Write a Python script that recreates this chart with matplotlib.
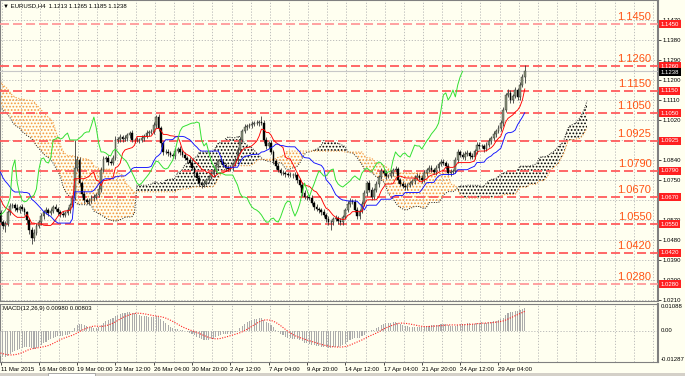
import numpy as np
import pandas as pd
import matplotlib
matplotlib.use("Agg")
import matplotlib.pyplot as plt
from matplotlib.patches import Rectangle

plt.rcParams['font.family'] = ['Liberation Sans', 'DejaVu Sans']
plt.rcParams['hatch.linewidth'] = 0.8

# ---------------- data ----------------
# H4 closes before the visible window (needed for Ichimoku / MACD warm-up)
hist_close = [1.1345, 1.1352, 1.1360, 1.1348, 1.1355, 1.1368, 1.1375, 1.1362, 1.1370, 1.1380,
              1.1372, 1.1358, 1.1350, 1.1362, 1.1371, 1.1365, 1.1352, 1.1347, 1.1356, 1.1362,
              1.1355, 1.1348, 1.1335,
              1.1290, 1.1248, 1.1215, 1.1202, 1.1195, 1.1188,
              1.1180, 1.1192, 1.1185, 1.1170, 1.1176, 1.1165, 1.1158, 1.1162, 1.1150, 1.1143,
              1.1150, 1.1138, 1.1130,
              1.1122, 1.1115, 1.1105, 1.1098, 1.1110, 1.1118, 1.1102, 1.1085, 1.1080, 1.1068, 1.1000,
              1.0975, 1.0958, 1.0935, 1.0905, 1.0878, 1.0862, 1.0848,
              1.0855, 1.0862, 1.0850, 1.0842, 1.0858, 1.0848, 1.0832,
              1.0812, 1.0790, 1.0765, 1.0740,
              1.0722, 1.0710, 1.0695, 1.0672, 1.0650, 1.0628, 1.0600]
hist_wick = [14, 10, 12, 9, 13, 11, 15, 10, 12, 16, 11, 9, 13, 12, 10, 14, 11, 12, 9, 13,
             12, 10, 14, 18, 15, 12, 11, 10, 13,
             12, 11, 10, 13, 9, 12, 11, 10, 12, 13, 9, 11, 12,
             10, 12, 11, 13, 9, 14, 12, 11, 10, 12, 13,
             20, 16, 14, 13, 15, 12, 11, 12, 10, 13, 11, 12, 10, 14,
             13, 12, 11, 12, 11, 13, 10, 12, 11, 12, 13]

# visible H4 closes, 11 Mar 2015 16:00 -> 1 May 2015
close = [1.0559, 1.0541, 1.0550, 1.0604, 1.0632, 1.0636, 1.0623, 1.0613, 1.0627, 1.0618,
         1.0604, 1.0568, 1.0523, 1.0487, 1.0510, 1.0541, 1.0559, 1.0586, 1.0604, 1.0613,
         1.0600, 1.0609, 1.0627, 1.0618, 1.0604, 1.0595, 1.0591, 1.0600, 1.0613, 1.0636,
         1.0668, 1.0803, 1.0839, 1.0735, 1.0686, 1.0658, 1.0650, 1.0654, 1.0668, 1.0672,
         1.0681, 1.0708, 1.0794, 1.0843, 1.0848, 1.0830, 1.0825, 1.0848, 1.0929, 1.0933,
         1.0942, 1.0933, 1.0938, 1.0951, 1.0960, 1.0929, 1.0929, 1.0929, 1.0929, 1.0938,
         1.0947, 1.0960, 1.0965, 1.0965, 1.0996, 1.1032, 1.0983, 1.0915, 1.0875, 1.0875,
         1.0870, 1.0861, 1.0857, 1.0879, 1.0888, 1.0875, 1.0861, 1.0848, 1.0839, 1.0825,
         1.0803, 1.0780, 1.0758, 1.0735, 1.0726, 1.0735, 1.0749, 1.0762, 1.0776, 1.0794,
         1.0816, 1.0834, 1.0830, 1.0816, 1.0803, 1.0798, 1.0803, 1.0821, 1.0839, 1.0884,
         1.0929, 1.0969, 1.0987, 1.0992, 1.0996, 1.1001, 1.1005, 1.1005, 1.1010, 1.1005,
         1.0929, 1.0902, 1.0915, 1.0875, 1.0834, 1.0812, 1.0794, 1.0780, 1.0780, 1.0776,
         1.0771, 1.0771, 1.0771, 1.0771, 1.0749, 1.0726, 1.0690, 1.0672, 1.0672, 1.0668,
         1.0645, 1.0627, 1.0618, 1.0613, 1.0604, 1.0591, 1.0573, 1.0559, 1.0559, 1.0573,
         1.0577, 1.0564, 1.0559, 1.0582, 1.0613, 1.0641, 1.0654, 1.0650, 1.0613, 1.0586,
         1.0609, 1.0641, 1.0690, 1.0735, 1.0704, 1.0672, 1.0704, 1.0731, 1.0762, 1.0789,
         1.0780, 1.0767, 1.0767, 1.0780, 1.0794, 1.0798, 1.0749, 1.0731, 1.0722, 1.0717,
         1.0726, 1.0735, 1.0744, 1.0758, 1.0767, 1.0758, 1.0749, 1.0780, 1.0794, 1.0803,
         1.0794, 1.0785, 1.0803, 1.0821, 1.0830, 1.0825, 1.0812, 1.0780, 1.0785, 1.0789,
         1.0839, 1.0875, 1.0861, 1.0852, 1.0866, 1.0870, 1.0857, 1.0852, 1.0879, 1.0906,
         1.0902, 1.0902, 1.0888, 1.0906, 1.0924, 1.0938, 1.0956, 1.0969, 1.0983, 1.1005,
         1.1064, 1.1132, 1.1141, 1.1109, 1.1127, 1.1154, 1.1123, 1.1177, 1.1213, 1.1238]
# upper / lower shadows in pips
wick_up = [12, 8, 15, 10, 14, 9, 11, 16, 8, 12, 10, 7, 9, 14, 18, 12, 10, 15, 9, 13,
           11, 14, 8, 12, 10, 9, 13, 10, 12, 9, 15, 126, 18, 14, 10, 12, 9, 15, 11, 13,
           10, 16, 14, 12, 9, 13, 11, 15, 18, 10, 12, 9, 14, 11, 8, 13, 10, 12, 9, 14,
           11, 13, 10, 12, 15, 10, 14, 11, 9, 12, 13, 10, 8, 14, 11, 12, 9, 13, 10, 12,
           14, 9, 11, 13, 10, 12, 8, 11, 14, 10, 12, 9, 13, 11, 10, 12, 14, 9, 11, 15,
           13, 10, 12, 9, 11, 14, 10, 12, 9, 27, 15, 12, 10, 13, 11, 9, 12, 10, 14, 11,
           10, 12, 9, 13, 11, 10, 14, 12, 9, 11, 13, 10, 12, 9, 11, 14, 10, 12, 9, 11,
           12, 10, 13, 11, 9, 14, 12, 10, 11, 13, 9, 12, 15, 10, 12, 11, 9, 13, 10, 12,
           11, 13, 10, 12, 9, 14, 11, 10, 12, 13, 9, 11, 10, 14, 12, 9, 11, 13, 10, 12,
           12, 10, 13, 9, 11, 14, 10, 12, 11, 9, 15, 12, 10, 13, 11, 12, 9, 14, 10, 12,
           13, 11, 10, 14, 12, 9, 13, 11, 15, 12, 14, 10, 16, 12, 11, 14, 10, 13, 12, 27]
wick_dn = [10, 14, 27, 9, 12, 8, 13, 10, 11, 9, 12, 14, 16, 25, 12, 10, 9, 11, 13, 10,
           12, 9, 11, 10, 13, 12, 9, 11, 10, 12, 8, 10, 14, 12, 15, 11, 9, 13, 10, 12,
           11, 9, 13, 10, 12, 14, 11, 9, 10, 13, 12, 11, 9, 12, 14, 10, 13, 11, 12, 9,
           12, 10, 13, 11, 9, 12, 14, 18, 13, 10, 12, 11, 9, 13, 10, 12, 11, 9, 13, 10,
           11, 13, 10, 12, 14, 11, 9, 12, 10, 13, 11, 12, 10, 9, 13, 11, 10, 12, 11, 9,
           12, 11, 10, 13, 9, 12, 11, 10, 12, 9, 14, 13, 11, 10, 12, 13, 11, 10, 9, 12,
           11, 10, 12, 9, 13, 11, 12, 10, 13, 11, 10, 12, 11, 14, 12, 10, 13, 11, 36, 12,
           10, 12, 11, 13, 10, 9, 12, 11, 10, 14, 12, 11, 10, 13, 9, 12, 11, 10, 12, 11,
           10, 12, 11, 9, 13, 10, 12, 11, 10, 12, 14, 11, 10, 12, 9, 11, 13, 10, 12, 11,
           11, 10, 12, 13, 9, 11, 12, 10, 13, 11, 10, 12, 11, 9, 13, 10, 12, 11, 10, 12,
           12, 10, 13, 11, 10, 12, 11, 14, 10, 13, 12, 11, 10, 14, 12, 11, 13, 12, 10, 28]

levels = [1.1450, 1.1260, 1.1150, 1.1050, 1.0925, 1.0790, 1.0670, 1.0550, 1.0420, 1.0280]
price_ticks = [1.0210, 1.0300, 1.0390, 1.0480, 1.0570, 1.0660, 1.0750, 1.0840,
               1.0930, 1.1020, 1.1110, 1.1200, 1.1290, 1.1380, 1.1470]
date_labels = ['11 Mar 2015', '16 Mar 08:00', '19 Mar 00:00', '23 Mar 12:00', '26 Mar 04:00',
               '30 Mar 20:00', '2 Apr 12:00', '7 Apr 04:00', '9 Apr 20:00', '14 Apr 12:00',
               '17 Apr 04:00', '21 Apr 20:00', '24 Apr 12:00', '29 Apr 04:00']
macd_labels = [0.01088, 0.0, -0.01287]
macd_legend = [0.00980, 0.00803]

# ---------------- indicators ----------------
n_hist = len(hist_close)
c_all = np.array(hist_close + close)
o_all = np.r_[c_all[0], c_all[:-1]]
h_all = np.maximum(o_all, c_all) + np.array(hist_wick + wick_up) / 1e4
l_all = np.minimum(o_all, c_all) - np.array(hist_wick + wick_dn) / 1e4

idx = range(len(c_all) + 26)
sh = pd.Series(h_all).reindex(idx)
sl = pd.Series(l_all).reindex(idx)
tenkan = (sh.rolling(9).max() + sl.rolling(9).min()) / 2
kijun = (sh.rolling(26).max() + sl.rolling(26).min()) / 2
span_a = ((tenkan + kijun) / 2).shift(26)
span_b = ((sh.rolling(52).max() + sl.rolling(52).min()) / 2).shift(26)

cs = pd.Series(c_all)
macd = cs.ewm(span=12, adjust=False).mean() - cs.ewm(span=26, adjust=False).mean()
signal = macd.rolling(9).mean()

nv = len(close)
bars = np.arange(nv)
o = o_all[n_hist:]
c = c_all[n_hist:]
h = h_all[n_hist:]
l = l_all[n_hist:]

# ---------------- figure ----------------
BG = '#FFFFF0'
fig = plt.figure(figsize=(6.85, 3.76), dpi=100, facecolor=BG)
ax = fig.add_axes([0, 75 / 376, 658 / 685, 301 / 376], facecolor=BG)
ax2 = fig.add_axes([0, 14 / 376, 658 / 685, 58 / 376], facecolor=BG)

xlim = (-0.21, 274.65)
grid_kw = dict(color='#b4b4b4', linestyle=(0, (1.5, 2.0)), linewidth=0.6)

# cloud
cx = np.arange(nv + 26)
sa = span_a.values[n_hist:n_hist + nv + 26]
sb = span_b.values[n_hist:n_hist + nv + 26]
ax.fill_between(cx, sa, sb, where=sa >= sb, interpolate=True, facecolor='none',
                edgecolor='#000000', hatch='.....', linewidth=0, zorder=2)
ax.fill_between(cx, sa, sb, where=sa < sb, interpolate=True, facecolor='none',
                edgecolor='#F49A40', hatch='.....', linewidth=0, zorder=2)
ax.plot(cx, sa, color='#202020', lw=0.7, ls=(0, (1, 1.5)), zorder=2)
ax.plot(cx, sb, color='#F49A40', lw=0.8, ls=(0, (1, 1.5)), zorder=2)

# levels
for lv in levels:
    col = '#FF9A9A' if lv in (levels[0], levels[-1]) else '#FF5C5C'
    ax.axhline(lv, color=col, lw=1.3, dashes=(5, 2.2), zorder=3)
    ax.annotate(f'{lv:.4f}', xy=(0.99, lv), xycoords=('axes fraction', 'data'),
                xytext=(0, 3), textcoords='offset points', ha='right', va='baseline',
                fontsize=8, color='#FF5414', zorder=6)

# current price line
ax.axhline(close[-1], color='#C8C8C8', lw=0.8, zorder=3)

# candles
bull = c >= o
ax.vlines(bars, l, h, color='#3a3a3a', lw=0.6, zorder=4)
body = np.maximum(np.abs(c - o), 0.00012)
ax.bar(bars[bull], body[bull], bottom=np.minimum(o, c)[bull], width=0.75,
       color='#8a947c', edgecolor='#2a2a2a', linewidth=0.3, zorder=5)
ax.bar(bars[~bull], body[~bull], bottom=np.minimum(o, c)[~bull], width=0.75,
       color='black', edgecolor='black', linewidth=0.3, zorder=5)

# ichimoku lines
ax.plot(bars, tenkan.values[n_hist:n_hist + nv], color='#FF0000', lw=0.65, zorder=6)
ax.plot(bars, kijun.values[n_hist:n_hist + nv], color='#1010FF', lw=0.65, zorder=6)
ax.plot(bars[:nv - 26], c[26:], color='#33E033', lw=0.7, zorder=6)

ax.set_xlim(*xlim)
ax.set_ylim(1.02035, 1.15595)
ax.set_xticks(np.arange(0, 275, 8) + 0.5)
ax.tick_params(axis='x', length=0, labelbottom=False)
ax.yaxis.tick_right()
ax.set_yticks(price_ticks)
ax.set_yticklabels(['' if min(abs(t - lv) for lv in levels) < 0.0015 else f'{t:.4f}'
                    for t in price_ticks])
ax.tick_params(axis='y', length=2, width=0.5, pad=1, labelsize=4.3, colors='black')
ax.grid(True, **grid_kw)
ax.set_axisbelow(True)

# right-hand price tags
tag_kw = dict(transform=ax.get_yaxis_transform(), ha='left', va='center', fontsize=4.3,
              color='white', clip_on=False, zorder=10)
for lv in levels:
    ax.text(1.004, lv, f'{lv:.4f}', bbox=dict(boxstyle='square,pad=0.25', fc='#FF2020',
                                              ec='none'), **tag_kw)
ax.text(1.004, close[-1] - 0.0004, f'{close[-1]:.4f}',
        bbox=dict(boxstyle='square,pad=0.25', fc='black', ec='none'), **tag_kw)

ax.text(0.004, 0.988, '\u25bc EURUSD,H4  %.4f %.4f %.4f %.4f' % (o[-1], h[-1], l[-1], c[-1]),
        transform=ax.transAxes, ha='left', va='top', fontsize=4.3, color='black')

# ---------------- MACD ----------------
mv = macd.values[n_hist:]
sv = signal.values[n_hist:]
ax2.bar(bars, mv, width=0.45, color='#ABABAB', zorder=3)
ax2.plot(bars, sv, color='#FF2020', lw=0.8, ls=(0, (1, 1.3)), zorder=4)
ax2.axhline(0, **grid_kw)
ax2.set_xlim(*xlim)
ax2.set_ylim(macd_labels[-1], macd_labels[0])
ax2.set_xticks(np.arange(0, 275, 8) + 0.5, minor=True)
ax2.set_xticks(np.arange(len(date_labels)) * 16, date_labels)
for t in ax2.get_xticklabels():
    t.set_ha('left')
ax2.tick_params(axis='x', which='major', length=2, width=0.5, pad=1.5, labelsize=4.3)
ax2.tick_params(axis='x', which='minor', length=0)
ax2.grid(True, axis='x', which='minor', **grid_kw)
ax2.set_yticks([])
ax2.text(0.004, 0.96, 'MACD(12,26,9) %.5f %.5f' % tuple(macd_legend), transform=ax2.transAxes,
         ha='left', va='top', fontsize=4.3)
for val, va in zip(macd_labels, ['top', 'center', 'bottom']):
    txt = '0.00' if val == 0 else f'{val:.5f}'
    ax2.text(1.004, val, txt, transform=ax2.get_yaxis_transform(), ha='left', va=va,
             fontsize=4.3, clip_on=False)

for a in (ax, ax2):
    for s in a.spines.values():
        s.set_color('#808080')
        s.set_linewidth(0.8)
    a.spines['right'].set_linewidth(1.5)

# bottom tab strip
fig.patches.append(Rectangle((0, 0), 1, 3 / 376, transform=fig.transFigure,
                             facecolor='#D4D0C8', edgecolor='none'))
fig.patches.append(Rectangle((48 / 685, 0), 47 / 685, 3.5 / 376, transform=fig.transFigure,
                             facecolor='white', edgecolor='#909090', lw=0.5))

fig.savefig('out.png', dpi=100, facecolor=BG)
